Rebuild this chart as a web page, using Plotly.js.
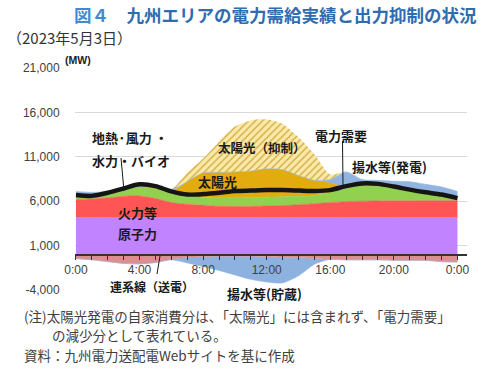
<!DOCTYPE html>
<html><head><meta charset="utf-8">
<script src="https://cdn.plot.ly/plotly-3.0.1.min.js"></script>
<style>html,body{margin:0;padding:0;background:#fff}#chart{width:500px;height:371px}</style>
</head><body><div id="chart"></div>
<script>
// ---- data (MW), hourly, 2023-05-03 Kyushu area ----
const hours      = [0,1,2,3,4,5,6,7,8,9,10,11,12,13,14,15,16,17,18,19,20,21,22,23,24];
const nuclear    = [4140,4140,4140,4140,4140,4140,4140,4140,4140,4140,4140,4140,4140,4140,4140,4140,4140,4140,4140,4140,4140,4140,4140,4140,4140];
const thermal    = [2060,2110,2210,2410,2440,2160,1710,1510,1410,1280,1260,1260,1310,1360,1460,1580,1710,1810,1860,1890,1900,1900,1920,1920,1920];
const renewables = [550,470,550,800,1020,1150,1150,1000,900,980,1000,1020,1000,1000,950,930,1100,1550,1800,1770,1460,1160,890,640,240];
const solar      = [0,0,0,0,0,0,100,1550,2750,2850,2900,2980,3200,3050,2350,1700,1100,150,0,0,0,0,0,0,0];
const pumpGen    = [350,280,200,150,150,300,250,0,0,0,0,0,0,0,0,0,400,1650,650,550,750,1000,950,900,800];
const curtailed  = [0,0,0,0,0,0,0,1000,1600,3450,5100,5700,5550,5150,4300,2950,550,0,0,0,0,0,0,0,0];
const exportTie  = [-450,-600,-800,-1000,-1050,-900,-550,-300,-250,-200,-200,-200,-250,-300,-350,-450,-550,-600,-600,-600,-650,-650,-650,-800,-850];
const pumpStore  = [0,0,0,0,0,0,-50,-650,-1100,-1600,-2100,-2600,-2850,-2900,-2050,-650,0,0,0,0,0,0,0,0,0];
const demand     = [6700,6600,6950,7450,7900,7700,7100,6750,6800,6950,7150,7200,7250,7250,7200,7150,7250,7700,8000,7950,7650,7300,7000,6750,6350];

const xTickVals   = [0,4,8,12,16,20,24];
const xTickLabels = ['0:00','4:00','8:00','12:00','16:00','20:00','0:00'];
const yTickVals   = [-4000,1000,6000,11000,16000,21000];
const yTickLabels = ['-4,000','1,000','6,000','11,000','16,000','21,000'];

// ---- chart ----
const JP = '"Noto Sans CJK JP", "Noto Sans", sans-serif';
const LAT = '"Liberation Sans", Arial, sans-serif';
function area(y, color, group, extra) {
  return Object.assign({
    type:'scatter', mode:'lines', x:hours, y:y, stackgroup:group,
    line:{width:0.6, color:color, shape:'spline', smoothing:0.7},
    fillcolor:color, hoverinfo:'skip'
  }, extra||{});
}
const traces = [
  area(nuclear,   '#c183ff', 'pos'),
  area(thermal,   '#ff5555', 'pos'),
  area(renewables,'#92d050', 'pos'),
  area(solar,     '#e2ab0e', 'pos'),
  area(pumpGen,   '#91b5e0', 'pos'),
  area(curtailed, '#fbe6a0', 'pos', {
    line:{width:0, color:'#fbe6a0', shape:'spline', smoothing:0.7},
    fillpattern:{shape:'/', bgcolor:'#fce9a8', fgcolor:'#cfac45', size:5, solidity:0.28}
  }),
  area(exportTie, '#dc8f8f', 'neg'),
  area(pumpStore, '#8db2df', 'neg'),
  {type:'scatter', mode:'lines', x:hours, y:demand,
   line:{color:'#151515', width:4.5, shape:'spline', smoothing:0.7}, hoverinfo:'skip'}
];

function px(x){return (x-75)/392;}
function py(y){return (290-y)/222;}
function lab(text, x, y, opts){
  return Object.assign({xref:'paper', yref:'paper', x:px(x), y:py(y), text:text,
    showarrow:false, xanchor:'center', yanchor:'middle',
    font:{family:JP, size:13, color:'#1a1a1a', weight:'bold'}}, opts||{});
}
const noteFont = {family:JP, size:13.5, color:'#404040'};
const annotations = [
  lab('<span style="color:#3d8bd1">図４</span>　九州エリアの電力需給実績と出力抑制の状況', 72, 14,
      {xanchor:'left', font:{family:JP, size:17.5, color:'#2f6cb0', weight:'bold'}}),
  lab('（2023年5月3日）', 5, 37, {xanchor:'left', font:{family:JP, size:15, color:'#333333'}}),
  lab('(MW)', 78, 60, {font:{family:LAT, size:10.5, color:'#222', weight:'bold'}}),
  lab('地熱·風力 ・', 90, 137, {xanchor:'left'}),
  lab('水力・バイオ', 90, 160, {xanchor:'left'}),
  lab('太陽光（抑制）', 262, 147, {font:{family:JP, size:12.5, color:'#1a1a1a', weight:'bold'}}),
  lab('太陽光', 217, 181),
  lab('火力等', 137, 212),
  lab('原子力', 137.5, 233),
  lab('電力需要', 341, 135),
  lab('揚水等(発電)', 389, 166),
  lab('連系線（送電）', 151.5, 286.5, {font:{family:JP, size:12, color:'#1a1a1a', weight:'bold'}}),
  lab('揚水等(貯蔵)', 264, 293),
  lab('(注)太陽光発電の自家消費分は、「太陽光」には含まれず、「電力需要」', 22, 315.5,
      {xanchor:'left', font:noteFont}),
  lab('の減少分として表れている。', 50, 335, {xanchor:'left', font:noteFont}),
  lab('資料：九州電力送配電Webサイトを基に作成', 22, 354.5, {xanchor:'left', font:noteFont})
];
function seg(x0,y0,x1,y1){
  return {type:'line', xref:'paper', yref:'paper', x0:px(x0), y0:py(y0), x1:px(x1), y1:py(y1),
          line:{color:'#1a1a1a', width:1}};
}
const shapes = [ seg(121,158,124,191), seg(342.5,141,343,185), seg(160,256,157,274) ];

const layout = {
  width:500, height:371,
  margin:{l:75, r:33, t:68, b:81, pad:0},
  paper_bgcolor:'#ffffff', plot_bgcolor:'#ffffff',
  showlegend:false,
  font:{family:LAT, size:12, color:'#404040'},
  xaxis:{range:[-0.06,24.6], tickmode:'array', tickvals:xTickVals, ticktext:xTickLabels,
    anchor:'free', position:0.16, showline:true, linecolor:'#333333', linewidth:1.2,
    ticks:'outside', ticklen:4, tickcolor:'#333333', tickwidth:1,
    showgrid:false, zeroline:false,
    minor:{tick0:0, dtick:1, ticks:'outside', ticklen:4, tickcolor:'#333333', tickwidth:1, showgrid:false},
    tickfont:{family:LAT, size:12, color:'#404040'}, fixedrange:true},
  yaxis:{range:[-4000,21000], tickmode:'array', tickvals:yTickVals, ticktext:yTickLabels,
    showgrid:true, gridcolor:'#d9d9d9', gridwidth:1, zeroline:false, showline:false,
    ticks:'outside', ticklen:12, tickcolor:'rgba(0,0,0,0)',
    tickfont:{family:LAT, size:12, color:'#404040'}, fixedrange:true},
  annotations:annotations,
  shapes:shapes
};
Plotly.newPlot('chart', traces, layout, {displayModeBar:false, staticPlot:true});
</script>
</body></html>
